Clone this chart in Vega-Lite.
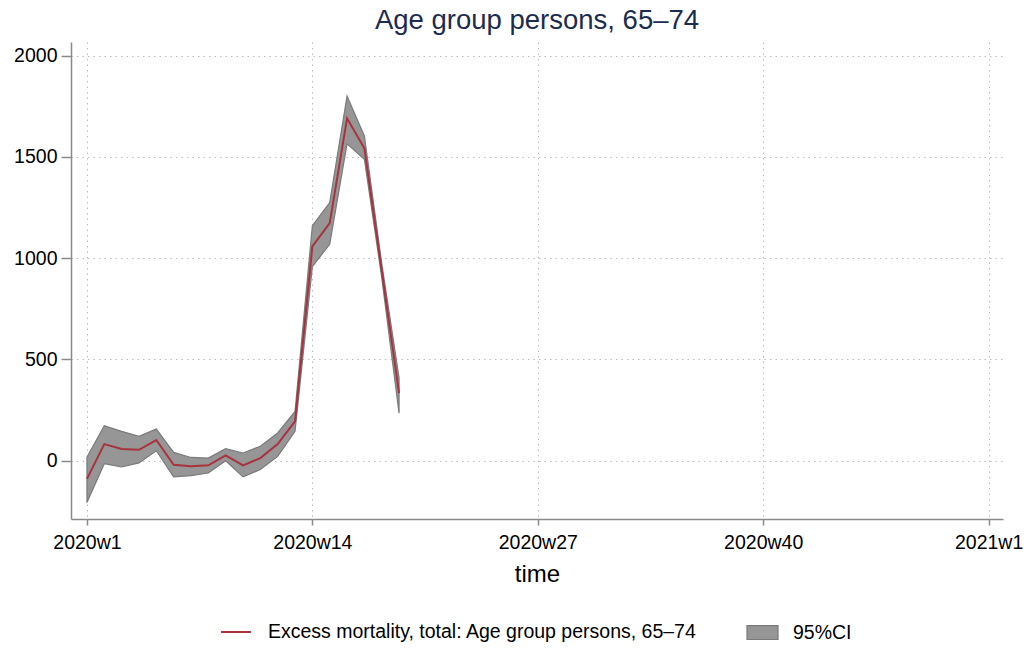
{
  "$schema": "https://vega.github.io/schema/vega-lite/v6.json",
  "autosize": {"type": "none"},
  "width": 932,
  "height": 477,
  "padding": {"left": 71, "top": 42, "right": 28, "bottom": 132},
  "background": "white",
  "config": {
    "font": "Liberation Sans",
    "view": {"stroke": null},
    "axis": {
      "domainColor": "#8a8a8a",
      "domainWidth": 1.5,
      "tickColor": "#8a8a8a",
      "tickWidth": 1.5,
      "labelColor": "#000000",
      "labelFont": "Liberation Sans",
      "labelFontSize": 19.5,
      "titleFont": "Liberation Sans",
      "titleFontWeight": "normal",
      "titleColor": "#000000",
      "gridColor": "#bdbdbd",
      "gridDash": [1.5, 4],
      "gridWidth": 1
    },
    "title": {"font": "Liberation Sans", "fontSize": 27.5, "fontWeight": "normal", "color": "#1c2b4f", "anchor": "middle", "offset": 8}
  },
  "title": "Age group persons, 65–74",
  "data": {
    "values": [
      {"w": 0, "y": -90, "lo": -206, "hi": 18},
      {"w": 1, "y": 82, "lo": -15, "hi": 173},
      {"w": 2, "y": 58, "lo": -31, "hi": 145},
      {"w": 3, "y": 54, "lo": -11, "hi": 120},
      {"w": 4, "y": 102, "lo": 49, "hi": 156},
      {"w": 5, "y": -20, "lo": -80, "hi": 41},
      {"w": 6, "y": -28, "lo": -74, "hi": 16},
      {"w": 7, "y": -23, "lo": -61, "hi": 13},
      {"w": 8, "y": 26, "lo": 0, "hi": 59},
      {"w": 9, "y": -23, "lo": -80, "hi": 38},
      {"w": 10, "y": 13, "lo": -44, "hi": 71},
      {"w": 11, "y": 82, "lo": 21, "hi": 137},
      {"w": 12, "y": 194, "lo": 145, "hi": 243},
      {"w": 13, "y": 1058, "lo": 959, "hi": 1161},
      {"w": 14, "y": 1173, "lo": 1069, "hi": 1275},
      {"w": 15, "y": 1691, "lo": 1565, "hi": 1801},
      {"w": 16, "y": 1543, "lo": 1489, "hi": 1604},
      {"w": 17, "y": 940, "lo": 905, "hi": 975},
      {"w": 18, "y": 334, "lo": 235, "hi": 410}
    ]
  },
  "encoding": {
    "x": {
      "field": "w",
      "type": "quantitative",
      "scale": {"domain": [-0.92, 52.83], "nice": false, "zero": false},
      "axis": {
        "title": "time",
        "titleFontSize": 24,
        "titlePadding": 11,
        "values": [0, 13, 26, 39, 52],
        "labelExpr": "datum.value == 52 ? '2021w1' : '2020w' + (datum.value + 1)",
        "tickSize": 6,
        "labelPadding": 8,
        "labelFlush": false,
        "grid": true
      }
    }
  },
  "layer": [
    {
      "mark": {"type": "area", "stroke": "#7a7a7a", "strokeWidth": 1.2, "fillOpacity": 1},
      "encoding": {
        "y": {
          "field": "lo",
          "type": "quantitative",
          "scale": {"domain": [-288, 2068], "nice": false, "zero": false},
          "axis": {
            "title": null,
            "format": "d",
            "values": [0, 500, 1000, 1500, 2000],
            "tickSize": 10,
            "labelPadding": 4,
            "grid": true
          }
        },
        "y2": {"field": "hi"},
        "fill": {
          "datum": "95%CI",
          "type": "nominal",
          "scale": {"range": ["#969696"]},
          "legend": {
            "title": null,
            "orient": "none",
            "legendX": 675,
            "legendY": 574,
            "symbolType": "M-1,-0.45H1V0.45H-1Z",
            "symbolSize": 961,
            "symbolStrokeColor": "#7a7a7a",
            "symbolStrokeWidth": 1.2,
            "symbolOpacity": 1,
            "labelFontSize": 19.5,
            "labelColor": "#000000",
            "labelOffset": 14
          }
        }
      }
    },
    {
      "mark": {"type": "line", "strokeWidth": 2},
      "encoding": {
        "y": {"field": "y", "type": "quantitative"},
        "stroke": {
          "datum": "Excess mortality, total: Age group persons, 65–74",
          "type": "nominal",
          "scale": {"range": ["#a8323e"]},
          "legend": {
            "title": null,
            "orient": "none",
            "legendX": 149,
            "legendY": 574,
            "symbolType": "stroke",
            "symbolSize": 900,
            "symbolStrokeWidth": 2,
            "labelFontSize": 19.5,
            "labelColor": "#000000",
            "labelOffset": 16,
            "labelLimit": 600
          }
        }
      }
    }
  ]
}
